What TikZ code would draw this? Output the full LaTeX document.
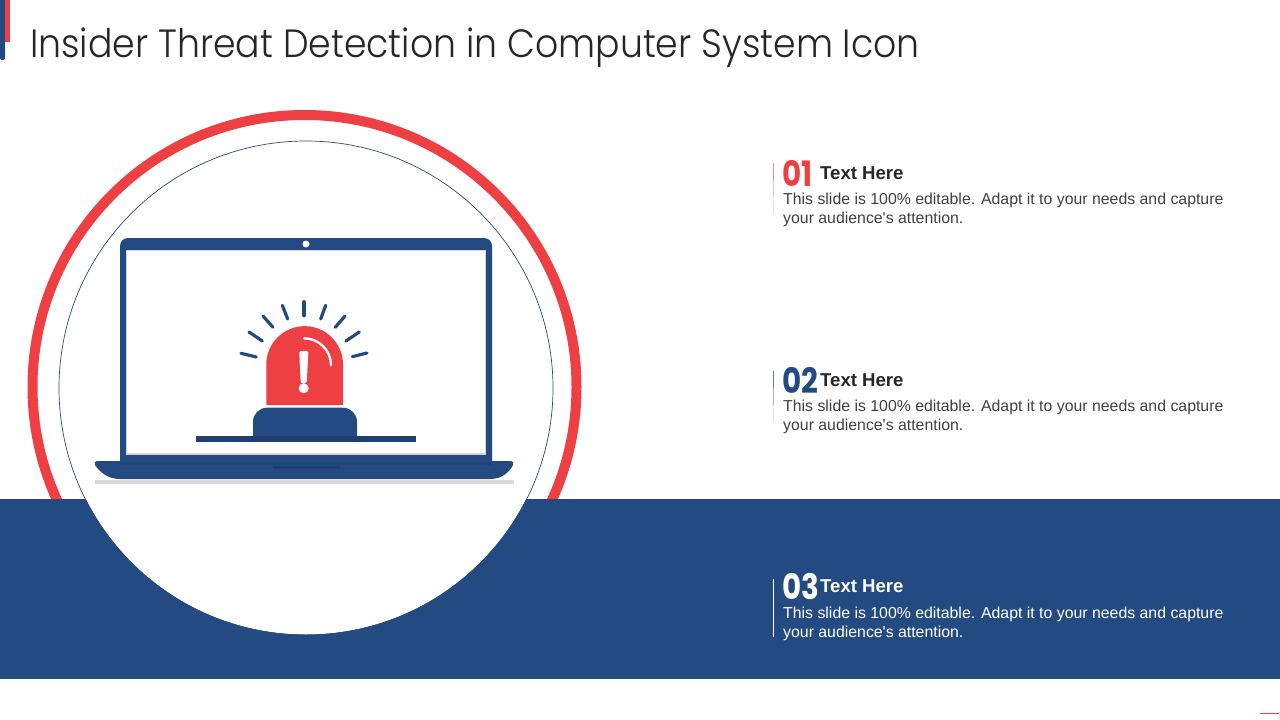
\documentclass[tikz,border=0pt]{standalone}
\usepackage{fontspec}
\setmainfont{Liberation Sans}
\newfontfamily\titlefont{Poppins Light}[FakeStretch=0.92]
\newfontfamily\numfont{Poppins Bold}[FakeStretch=0.84]
\definecolor{bandblue}{HTML}{244B81}
\definecolor{darkblue}{HTML}{1E3F70}
\definecolor{alarmred}{HTML}{EE3F43}
\tikzset{
  bodytext/.style={inner sep=0pt,anchor=north west,align=left,font=\fontsize{15.85}{19}\selectfont},
  headtext/.style={inner sep=0pt,anchor=base west,font=\fontsize{18.6}{22}\selectfont\bfseries},
  numtext/.style={inner sep=0pt,anchor=base west,font=\fontsize{35}{40}\numfont},
  raystroke/.style={bandblue,line width=3.2pt,line cap=round}
}
\begin{document}
\begin{tikzpicture}[x=1pt,y=-1pt]
  \useasboundingbox (0,0) rectangle (1280,720);
  % title and corner marks
  \fill[bandblue,rounded corners=1.5pt] (0,-5) rectangle (5,60);
  \fill[alarmred] (5,0) rectangle (10,42);
  \node[inner sep=0pt,anchor=base west,text=black!85,font=\fontsize{39.4}{44}\titlefont] (title) at (30,57.5) {Insider Threat Detection in Computer System Icon};
  % red ring, band and white disc
  \draw[alarmred,line width=10pt] (304.5,387) circle (272);
  \fill[bandblue] (0,499) rectangle (1280,679);
  \fill[white] (306,388) circle (246.5);
  \draw[bandblue,line width=0.7pt] (306,388) circle (247);
  \draw[alarmred,line width=1.4pt] (1260,713.5) -- (1279,713.5);
  % laptop
  \fill[black!15] (95,480) rectangle (514,484);
  \fill[bandblue,rounded corners=8pt] (120,470) -- (120,238) -- (492,238) -- (492,470) -- cycle;
  \fill[white,draw=black!17,line width=1pt] (126.5,250.5) rectangle (485.5,454.5);
  \fill[black!17] (126,452.7) rectangle (486,455);
  \fill[white] (306,244) circle (3.5);
  \fill[bandblue] (97,461) -- (511,461) .. controls (513,461) and (514,463) .. (513,465) .. controls (510,471) and (503,479) .. (490,479) -- (120,479) .. controls (107,479) and (99,471) .. (95,465) .. controls (94,463) and (95,461) .. (97,461) -- cycle;
  \fill[bandblue!50!darkblue] (120,462) rectangle (492,464.5);
  \fill[darkblue] (273,465.5) rectangle (340,469);
  % alarm lamp
  \fill[alarmred] (266.3,405) -- (266.3,364.5) arc[start angle=180,end angle=360,radius=38.35] -- (343,405) -- cycle;
  \fill[bandblue,rounded corners=14pt] (253,450) -- (253,407.7) -- (357,407.7) -- (357,450) -- cycle;
  \fill[bandblue] (253,425) rectangle (357,438);
  \fill[white] (196,442) rectangle (416,452);
  \fill[darkblue] (196,436) rectangle (416,442);
  \fill[white,rounded corners=2pt] (299.2,351) -- (308.4,351) -- (306.7,383.3) -- (300.7,383.3) -- cycle;
  \fill[white] (303.7,388.3) circle (5);
  \draw[white,line width=2.3pt,line cap=round] (304,338.3) arc[start angle=270,end angle=360,radius=27];
  % rays
  \draw[raystroke] (304,301.7) -- (304,315.7);
  \draw[raystroke] (325.7,305.3) -- (320.7,319);
  \draw[raystroke] (345,316) -- (335.3,327.3);
  \draw[raystroke] (359.3,332) -- (346,341);
  \draw[raystroke] (367,353) -- (352.3,356.7);
  \draw[raystroke] (282.3,305.3) -- (287.7,319);
  \draw[raystroke] (263,316) -- (273,327.3);
  \draw[raystroke] (249,332) -- (262.3,341);
  \draw[raystroke] (241,353.3) -- (256.3,357);
  % text 01
  \fill[alarmred!60] (773,163) rectangle (774.2,180);
  \fill[alarmred!35] (773,180) rectangle (774.2,197);
  \fill[alarmred!15] (773,197) rectangle (774.2,213);
  \node[numtext,text=alarmred] (numa) at (782,186) {01};
  \node[headtext,text=black!85] (heada) at (820,179) {Text Here};
  \node[bodytext,text=black!75] (bodya) at (783,192.5) {This slide is 100\% editable. Adapt it to your needs and capture\\your audience\textquotesingle s attention.};
  % text 02
  \fill[bandblue!70] (773,371) rectangle (774.2,388);
  \fill[bandblue!40] (773,388) rectangle (774.2,405);
  \fill[bandblue!15] (773,405) rectangle (774.2,421);
  \node[numtext,text=bandblue] (numb) at (782,393) {02};
  \node[headtext,text=black!85] (headb) at (820,386) {Text Here};
  \node[bodytext,text=black!75] (bodyb) at (783,399.5) {This slide is 100\% editable. Adapt it to your needs and capture\\your audience\textquotesingle s attention.};
  % text 03
  \fill[white] (773,579) rectangle (774,637);
  \node[numtext,text=white] (numc) at (782,599) {03};
  \node[headtext,text=white] (headc) at (820,592) {Text Here};
  \node[bodytext,text=white] (bodyc) at (783,606.5) {This slide is 100\% editable. Adapt it to your needs and capture\\your audience\textquotesingle s attention.};
\end{tikzpicture}
\end{document}
